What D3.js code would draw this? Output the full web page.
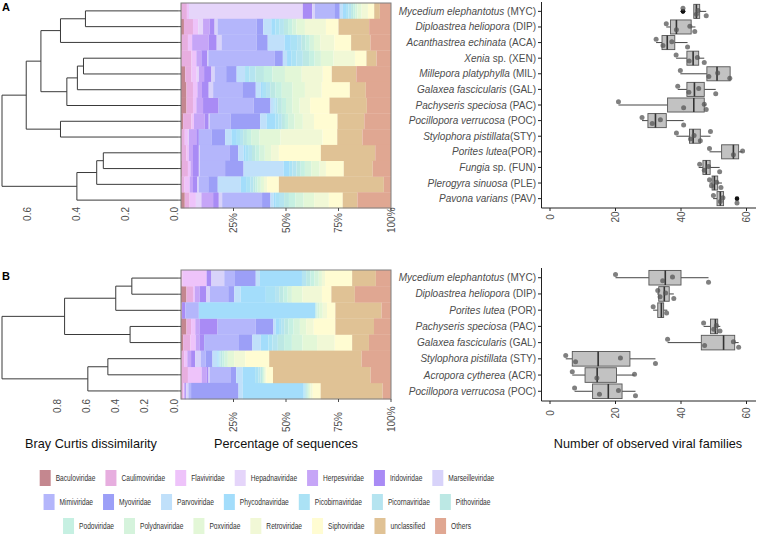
<!DOCTYPE html>
<html><head><meta charset="utf-8">
<script src="https://cdn.jsdelivr.net/npm/d3@7"></script>
<style>
body{margin:0;background:#fff;}
svg{display:block;font-family:"Liberation Sans",Arial,Helvetica,sans-serif;}
</style></head><body>
<svg id="chart" width="758" height="536"></svg>
<script>
// ---------- DATA ----------
const families = ["Baculoviridae","Caulimoviridae","Flaviviridae","Hepadnaviridae","Herpesviridae","Iridoviridae","Marseilleviridae",
  "Mimiviridae","Myoviridae","Parvoviridae","Phycodnaviridae","Picobirnaviridae","Picornaviridae","Pithoviridae",
  "Podoviridae","Polydnaviridae","Poxviridae","Retroviridae","Siphoviridae","unclassified","Others"];
const familyColors = ["#C4878F","#E7AEDF","#EEC3FA","#E5D5FA","#C6A5F7","#A98BF5","#D8D3FA",
  "#B4B6FB","#9C9FF7","#C0E0FA","#A3DDFB","#ABE2F5","#B5E4F0","#BCE8E4",
  "#C6F0E2","#D5F3DC","#E3F7D7","#F1F8D6","#FFFCD2","#E0C295","#E0A792"];

const samplesA = ["MYC","DIP","ACA","XEN","MIL","GAL","PAC","POC","STY","POR","FUN","PLE","PAV"];
const labelsA = [["Mycedium elephantotus"," (MYC)"],["Diploastrea heliopora"," (DIP)"],["Acanthastrea echinata"," (ACA)"],
  ["Xenia"," sp. (XEN)"],["Millepora platyphylla"," (MIL)"],["Galaxea fascicularis"," (GAL)"],["Pachyseris speciosa"," (PAC)"],
  ["Pocillopora verrucosa"," (POC)"],["Stylophora pistillata","(STY)"],["Porites lutea","(POR)"],["Fungia"," sp. (FUN)"],
  ["Plerogyra sinuosa"," (PLE)"],["Pavona varians"," (PAV)"]];
// percentage of sequences per family (same order as families)
const compA = [
  [0.3,2.5,1.0,54.2,0,4.5,1.3,9.2,2.6,1.5,1.5,1.2,1.2,1,1,1,2,3,3,2.7,5.3],
  [1.4,4.3,2.5,2.3,3.2,2.3,1.4,18.6,3.2,3.8,2,2,2,2,2,2,4,10,6,14.6,10.4],
  [0.4,2.9,2,0,7.9,3.8,2.3,16.7,5.3,8,3,3,2,2,2,2,3,6.7,8,9.2,9.8],
  [0.3,4.7,2.3,0,2.4,2.9,0.4,31.7,3.8,2,2,2.5,3,3,2.6,3,6,10.2,5.5,4.8,6.9],
  [2,3,2.5,1,2.5,3.5,1.5,5.5,5,4,0,2,3,4,4,6,8,10,4.3,11.7,16.5],
  [2.6,3.1,2.1,0,2.2,3.2,2.1,13.9,6.4,2.4,1,1.5,2,2.5,3,5,6,8,13.4,7.6,12],
  [2.6,3.1,1.6,0,3.2,7.4,0,16.7,8,1.4,0.5,0.5,1,2,2,3,3.5,5,9.2,17.8,11.5],
  [1,4,1.2,0,5.1,1.9,0.4,10,14.1,3,4.3,1.5,1.5,1.5,1.5,3,4,5.3,11.2,12.8,12.7],
  [0.3,1.5,1.5,0.5,3.5,1.2,0,6,6.5,3,2.6,1.5,1.5,1.8,2,4,10,20,7,12,13.6],
  [0.3,2.3,1.1,0,2,2.8,0.5,14.3,4,2.5,1,1.5,1.5,1.6,2,2.5,3,3.7,20,25.9,7.5],
  [0.4,2.9,1.2,0,1.2,2.8,0.5,12,8.8,19,2.7,1.5,2,2,2,3,4,3,8.5,13.8,8.7],
  [0.3,1.4,2.4,0,1.6,2.1,0.7,4.5,4.5,11,2.5,2,1.5,1,1,1.5,1.5,1.5,5.6,50,3.4],
  [1.8,2.3,3,2.6,5.6,2.7,1.6,19,4,1.5,1,2,2,2.3,3,4,5,7,6.6,7,16]
];
const samplesB = ["MYC","DIP","POR","PAC","GAL","STY","ACR","POC"];
const labelsB = [["Mycedium elephantotus"," (MYC)"],["Diploastrea heliopora"," (DIP)"],["Porites lutea"," (POR)"],
  ["Pachyseris speciosa"," (PAC)"],["Galaxea fascicularis"," (GAL)"],["Stylophora pistillata"," (STY)"],
  ["Acropora cytherea"," (ACR)"],["Pocillopora verrucosa"," (POC)"]];
const compB = [
  [0.2,0.5,11.5,0,0,2.3,6.1,4.8,10.2,2,20,0,2,2,2,2,1.5,1.5,12.9,11.3,7.2],
  [2.6,3.1,0.8,0,2.4,3.2,1.6,8.8,2.9,3,12,4.4,2,2,2,2,5,9.3,4.5,11.2,17.2],
  [0.3,0.2,0,0,0,1.6,0,6.4,0,0,55.5,0,0,0.5,0.5,1,1.5,2,4,22,4.5],
  [2.6,2.2,2,0,2,8.6,0,18.2,8.4,1,1.7,1,1.5,2,2.4,3,3,3.6,10.3,18.4,8.1],
  [1,3.5,2.5,0,1.8,2.2,0,16.6,6.4,4,3.6,2,2.5,3,3.7,5,7,8.4,8.3,8,10.5],
  [0.3,1.2,1.5,0,1.8,2,2.6,2.3,3.3,2.3,0.5,0.5,0.5,1,1,1.5,3,5.3,11.4,44,14],
  [0.3,3,6.5,0,2.5,0.8,0.5,9.9,2.8,3,6,1.5,1,0.8,0.5,0.5,0.5,0.5,3.2,46.5,9.7],
  [0.3,0.8,0.4,0,0.5,0.5,1,1.3,22.6,2,29,0.5,0.5,0.5,0.5,0.5,0.8,1,3.8,29.5,4]
];

// hierarchical clustering (hclust style: negative = leaf number, positive = earlier merge)
const mergeA = [[-1,-2],[1,-3],[-4,-5],[3,-6],[4,-7],[2,5],[-8,-9],[6,7],[-10,-11],[9,-12],[10,-13],[8,11]];
const heightA = [0.370,0.472,0.378,0.403,0.446,0.552,0.472,0.612,0.297,0.324,0.405,0.711];
const mergeB = [[-1,-2],[1,-3],[-4,-5],[2,3],[-6,-7],[5,-8],[4,6]];
const heightB = [0.302,0.412,0.314,0.762,0.466,0.603,1.19];
const dendroTicksA = [0,0.2,0.4,0.6];
const dendroTicksB = [0,0.2,0.4,0.6,0.8];
const pctTicks = [25,50,75,100];
const countTicks = [0,20,40,60];

// number of observed viral families: [lower whisker, Q1, median, Q3, upper whisker]
const boxA = [[43.9,43.9,44.7,45.7,47.7],[35.5,36.8,38.6,43.1,44.4],[32.4,34.2,35.8,38.1,42.0],[38.5,41.8,43.7,45.4,47.1],
  [39.8,47.9,51.0,55.0,55.0],[39.0,41.8,44.1,47.1,50.6],[20.9,35.9,43.9,47.1,47.6],[28.1,29.9,32.2,35.5,40.8],
  [38.6,42.6,43.7,45.9,49.0],[48.7,52.4,56.0,57.6,58.8],[45.4,46.7,47.7,48.9,51.8],[48.7,49.5,50.2,51.2,52.5],[49.8,51.0,52.0,53.0,53.0]];
const pointsA = [[40.6,44.7,45.2,47.7],[35.5,38.6,42.7,44.2],[32.4,34.5,37.2,42.0],[38.5,42.5,45.0,47.1],[39.8,48.5,51.2,54.9],
  [39.0,42.4,45.4,50.6],[20.9,40.8,47.1,47.7],[28.1,31.2,33.7,40.8],[38.6,42.9,44.0,45.9,49.0],[48.7,56.0,58.8],
  [45.7,47.1,48.4,51.8],[48.7,49.3,50.9,52.2],[49.9,52.0,52.8,57.1]];
const outliersA = [[40.6,40.6],[],[],[],[],[],[],[],[],[],[],[],[57.1]];
const boxB = [[20.0,30.2,35.2,40.0,48.4],[32.7,33.2,34.9,36.4,37.8],[31.5,32.9,34.0,34.7,35.8],[46.9,49.0,50.5,51.2,52.0],
  [35.9,46.2,53.0,56.4,57.6],[4.8,6.8,14.7,24.4,32.2],[6.8,10.7,14.4,20.3,25.8],[7.5,13.0,17.8,22.0,26.1]];
const pointsB = [[20.0,34.4,37.4,48.4],[32.9,33.6,35.3,37.8],[31.5,35.6],[46.9,50.0,50.8,51.9],[35.9,47.2,56.0,57.6],
  [4.8,7.8,21.5,32.2],[6.8,14.3,25.8],[7.5,15.1,20.9,26.1]];
const outliersB = [[],[],[],[],[],[],[],[]];

// ---------- DRAWING ----------
const svg = d3.select("#chart");
const txtCol = "#4D4D4D";

function buildTree(merge, heights){
  const nodes = merge.map((m,i)=>({h:heights[i], children:m.map(c=> c<0 ? {leaf:-c-1, h:0} : null)}));
  merge.forEach((m,i)=>{ m.forEach((c,j)=>{ if(c>0) nodes[i].children[j] = nodes[c-1]; }); });
  return d3.hierarchy(nodes[nodes.length-1], d=>d.children);
}

function drawDendro(merge, heights, ticks, yBand, samples, xr, labelY){
  const root = buildTree(merge, heights);
  const x = d3.scaleLinear().domain([0, d3.max(heights)]).range(xr);
  root.eachAfter(n=>{
    if(!n.children){ n.yy = yBand(samples[n.data.leaf]) + yBand.bandwidth()/2; }
    else { n.yy = (n.children[0].yy + n.children[1].yy)/2; }
  });
  const g = svg.append("g").attr("fill","none").attr("stroke","#3a3a3a").attr("stroke-width",1);
  root.each(n=>{
    if(!n.children) return;
    const xp = x(n.data.h);
    g.append("line").attr("x1",xp).attr("x2",xp).attr("y1",n.children[0].yy).attr("y2",n.children[1].yy);
    n.children.forEach(c=>{
      const xc = c.children ? x(c.data.h) : x(0)+2;
      g.append("line").attr("x1",xp).attr("x2",xc).attr("y1",c.yy).attr("y2",c.yy);
    });
  });
  svg.append("g").selectAll("text").data(ticks).join("text")
    .attr("transform",d=>`translate(${x(d)-2},${labelY}) rotate(-90)`)
    .attr("text-anchor","end").attr("dy","0.35em")
    .attr("font-size",10).attr("fill",txtCol).text(d=>d.toFixed(1));
}

function drawBars(comp, samples, yr, labelY){
  const data = comp.map((r,i)=>{ const o={sample:samples[i]}; r.forEach((v,j)=>o[families[j]]=v); return o; });
  const x = d3.scaleLinear().domain([0,100]).range([181,391]);
  const y = d3.scaleBand().domain(samples).range(yr).padding(0);
  const series = d3.stack().keys(families)(data);
  const g = svg.append("g");
  g.selectAll("g").data(series).join("g").attr("fill",(d,i)=>familyColors[i])
    .selectAll("rect").data(d=>d).join("rect")
    .attr("x",d=>x(d[0])).attr("width",d=>Math.max(0,x(d[1])-x(d[0])))
    .attr("y",d=>y(d.data.sample)).attr("height",y.bandwidth()+0.3);
  svg.append("rect").attr("x",181).attr("y",yr[0]).attr("width",210).attr("height",yr[1]-yr[0])
    .attr("fill","none").attr("stroke","#7F7F7F").attr("stroke-width",1);
  // left ticks
  svg.append("g").selectAll("line").data(samples).join("line")
    .attr("x1",178).attr("x2",181).attr("y1",d=>y(d)+y.bandwidth()/2).attr("y2",d=>y(d)+y.bandwidth()/2)
    .attr("stroke","#4D4D4D");
  svg.append("g").selectAll("line").data(pctTicks).join("line")
    .attr("x1",d=>x(d)).attr("x2",d=>x(d)).attr("y1",yr[1]).attr("y2",yr[1]+3).attr("stroke","#4D4D4D");
  // bottom-aligned rotated labels
  svg.append("g").selectAll("text").data(pctTicks).join("text")
    .attr("transform",d=>`translate(${x(d)},${labelY}) rotate(-90)`)
    .attr("text-anchor","start").attr("dy","0.35em")
    .attr("font-size",10).attr("fill",txtCol).text(d=>d+"%");
  return y;
}

function drawBoxes(stats, points, outliers, samples, labels, yr, labelY){
  const x = d3.scaleLinear().domain([-2.6,62.9]).range([541.5,756]);
  const y = d3.scalePoint().domain(samples).range(yr).padding(0.6);
  const bw = y.step()*0.9;
  const g = svg.append("g");
  // axes
  g.append("line").attr("x1",541.5).attr("x2",541.5).attr("y1",yr[0]).attr("y2",yr[1]).attr("stroke","#222");
  g.append("line").attr("x1",541.5).attr("x2",756).attr("y1",yr[1]).attr("y2",yr[1]).attr("stroke","#222");
  g.selectAll(".yt").data(samples).join("line").attr("x1",538).attr("x2",541.5)
    .attr("y1",d=>y(d)).attr("y2",d=>y(d)).attr("stroke","#222");
  g.selectAll(".xt").data(countTicks).join("line").attr("class","xt").attr("x1",d=>x(d)).attr("x2",d=>x(d))
    .attr("y1",yr[1]).attr("y2",yr[1]+3).attr("stroke","#222");
  g.selectAll(".xl").data(countTicks).join("text").attr("class","xl")
    .attr("transform",d=>`translate(${x(d)},${labelY}) rotate(-90)`)
    .attr("text-anchor","middle").attr("dy","0.35em").attr("font-size",10).attr("fill",txtCol).text(d=>d);
  // labels
  const lab = g.selectAll(".lab").data(labels).join("text").attr("class","lab")
    .attr("x",536).attr("y",(d,i)=>y(samples[i])).attr("dy","0.35em").attr("text-anchor","end")
    .attr("font-size",10).attr("fill",txtCol);
  lab.append("tspan").attr("font-style","italic").text(d=>d[0]);
  lab.append("tspan").text(d=>d[1]);
  // boxes
  stats.forEach((s,i)=>{
    const cy = y(samples[i]);
    g.append("line").attr("x1",x(s[0])).attr("x2",x(s[1])).attr("y1",cy).attr("y2",cy).attr("stroke","#444");
    g.append("line").attr("x1",x(s[3])).attr("x2",x(s[4])).attr("y1",cy).attr("y2",cy).attr("stroke","#444");
    g.append("rect").attr("x",x(s[1])).attr("width",x(s[3])-x(s[1])).attr("y",cy-bw/2).attr("height",bw)
      .attr("fill","#C2C2C2").attr("stroke","#555").attr("stroke-width",0.9);
    g.append("line").attr("x1",x(s[2])).attr("x2",x(s[2])).attr("y1",cy-bw/2).attr("y2",cy+bw/2)
      .attr("stroke","#333").attr("stroke-width",1.6);
    outliers[i].forEach(v=>{
      g.append("circle").attr("cx",x(v)).attr("cy",cy).attr("r",2.3).attr("fill","#111");
    });
    const off = [-1.6,1.4,-0.4,2.2,-2.4];
    points[i].forEach((v,k)=>{
      g.append("circle").attr("cx",x(v)).attr("cy",cy+off[k%off.length]*bw/7).attr("r",2.5)
        .attr("fill","#555").attr("fill-opacity",0.75);
    });
  });
}

// Panel A
const bandA = d3.scaleBand().domain(samplesA).range([3,208]).padding(0);
drawBars(compA, samplesA, [3,208], 233);
drawDendro(mergeA, heightA, dendroTicksA, bandA, samplesA, [176,2], 207);
drawBoxes(boxA, pointsA, outliersA, samplesA, labelsA, [2,208], 217);

// Panel B
const bandB = d3.scaleBand().domain(samplesB).range([270,399]).padding(0);
drawBars(compB, samplesB, [270,399], 432);
drawDendro(mergeB, heightB, dendroTicksB, bandB, samplesB, [176,2], 399);
drawBoxes(boxB, pointsB, outliersB, samplesB, labelsB, [268,401], 413);

// panel tags
svg.append("text").attr("x",2).attr("y",11).attr("font-size",11).attr("font-weight","bold").text("A");
svg.append("text").attr("x",2).attr("y",280).attr("font-size",11).attr("font-weight","bold").text("B");

// axis titles
const titles = [["Bray Curtis dissimilarity",91],["Percentage of sequences",286],["Number of observed viral families",648]];
svg.append("g").selectAll("text").data(titles).join("text")
  .attr("x",d=>d[1]).attr("y",448).attr("text-anchor","middle").attr("font-size",12.7).attr("fill","#111").text(d=>d[0]);

// legend: 3 rows of 7, each row centred
const legRows = [0,1,2].map(r=>families.slice(r*7, r*7+7));
const legY = [478,502,526];
legRows.forEach((row,r)=>{
  const g = svg.append("g");
  const items = row.map(name=>{
    const it = g.append("g");
    it.append("rect").attr("width",11).attr("height",16).attr("y",-8).attr("fill",familyColors[families.indexOf(name)]);
    const t = it.append("text").attr("x",16).attr("dy","0.35em").attr("font-size",9.6)
      .attr("fill","#333").text(name);
    const w = t.node().getComputedTextLength()*0.69;
    t.attr("textLength",w).attr("lengthAdjust","spacingAndGlyphs");
    return {it, w:16 + w};
  });
  const gap = 10;
  const total = d3.sum(items, d=>d.w) + gap*(items.length-1);
  let cx = 267 - total/2;
  items.forEach(d=>{ d.it.attr("transform",`translate(${cx},${legY[r]})`); cx += d.w + gap; });
});
</script>
</body></html>
